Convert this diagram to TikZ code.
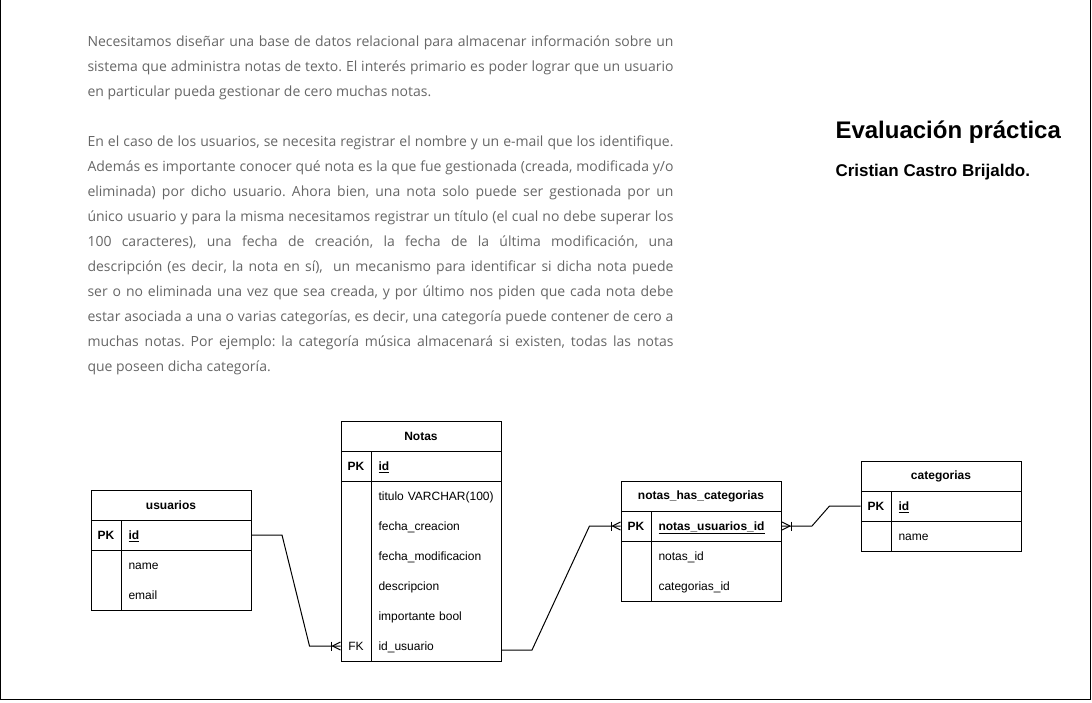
\documentclass[tikz,border=0pt]{standalone}
\usepackage{fontspec}
\setmainfont{Liberation Sans}
\newfontfamily\parafont{Open Sans}
\usetikzlibrary{calc}
\definecolor{paragray}{HTML}{666666}
\frenchspacing
\begin{document}
\begin{tikzpicture}[x=1pt,y=-1pt,line width=1pt,
  para/.style={anchor=base west,inner sep=0pt,font=\parafont\fontsize{14}{17}\selectfont,text=paragray},
  key/.style={inner sep=0pt,minimum width=30pt,minimum height=30pt,text height=9pt,text depth=0pt,font=\bfseries\fontsize{12}{14}\selectfont},
  fkey/.style={key,font=\fontsize{12}{14}\selectfont},
  fld/.style={anchor=west,inner xsep=7pt,inner ysep=0pt,text width=116pt,text height=9pt,text depth=0pt,minimum height=30pt,align=left,font=\fontsize{12}{14}\selectfont},
  pkfld/.style={fld,font=\bfseries\fontsize{12}{14}\selectfont},
  hdr/.style={draw,minimum width=160pt,minimum height=30pt,inner sep=0pt,font=\bfseries\fontsize{12}{14}\selectfont},
  conn/.style={draw,line width=1pt},
]
\useasboundingbox (0,0) rectangle (1092,702);
% frame (open at top)
\draw (0.5,0) -- (0.5,699.5) -- (1090.5,699.5) -- (1090.5,0);

% paragraph text
\node[para] (p1) at (87,46) {\makebox[586pt][s]{Necesitamos diseñar una base de datos relacional para almacenar información sobre un}};
\node[para] (p2) at (87,71) {\makebox[586pt][s]{sistema que administra notas de texto. El interés primario es poder lograr que un usuario}};
\node[para] (p3) at (87,96) {en particular pueda gestionar de cero muchas notas.};
\node[para] (p4) at (87,146) {\makebox[586pt][s]{En el caso de los usuarios, se necesita registrar el nombre y un e-mail que los identifique.}};
\node[para] (p5) at (87,171) {\makebox[586pt][s]{Además es importante conocer qué nota es la que fue gestionada (creada, modificada y/o}};
\node[para] (p6) at (87,196) {\makebox[586pt][s]{eliminada) por dicho usuario. Ahora bien, una nota solo puede ser gestionada por un}};
\node[para] (p7) at (87,221) {\makebox[586pt][s]{único usuario y para la misma necesitamos registrar un título (el cual no debe superar los}};
\node[para] (p8) at (87,246) {\makebox[586pt][s]{100 caracteres), una fecha de creación, la fecha de la última modificación, una}};
\node[para] (p9) at (87,271) {\makebox[586pt][s]{descripción (es decir, la nota en sí), \ un mecanismo para identificar si dicha nota puede}};
\node[para] (p10) at (87,296) {\makebox[586pt][s]{ser o no eliminada una vez que sea creada, y por último nos piden que cada nota debe}};
\node[para] (p11) at (87,321) {\makebox[586pt][s]{estar asociada a una o varias categorías, es decir, una categoría puede contener de cero a}};
\node[para] (p12) at (87,346) {\makebox[586pt][s]{muchas notas. Por ejemplo: la categoría música almacenará si existen, todas las notas}};
\node[para] (p13) at (87,371) {que poseen dicha categoría.};

% title
\node[anchor=base west,inner sep=0pt,font=\bfseries\fontsize{24}{28}\selectfont] (title) at (835,138) {Evaluación práctica};
\node[anchor=base west,inner sep=0pt,font=\bfseries\fontsize{17}{20}\selectfont] (author) at (835,176) {Cristian Castro Brijaldo.};

% ---- usuarios ----
\node[hdr] (u) at (171,505) {usuarios};
\draw (91,520) rectangle (251,610);
\draw (91,550) -- (251,550);
\draw (121,520) -- (121,610);
\node[key] (u-pkk) at (106,535) {PK};
\node[pkfld] (u-id) at (121,535) {\underline{id}};
\node[fld] (u-name) at (121,565) {name};
\node[fld] (u-email) at (121,595) {email};

% ---- Notas ----
\node[hdr] (n) at (421,436) {Notas};
\draw (341,451) rectangle (501,661);
\draw (341,481) -- (501,481);
\draw (371,451) -- (371,661);
\node[key] (n-pkk) at (356,466) {PK};
\node[pkfld] (n-id) at (371,466) {\underline{id}};
\node[fld] (n-tit) at (371,496) {titulo VARCHAR(100)};
\node[fld] (n-fc) at (371,526) {fecha\_creacion};
\node[fld] (n-fm) at (371,556) {fecha\_modificacion};
\node[fld] (n-de) at (371,586) {descripcion};
\node[fld] (n-im) at (371,616) {importante bool};
\node[fkey] (n-fkk) at (356,646) {FK};
\node[fld] (n-fk) at (371,646) {id\_usuario};

% ---- notas_has_categorias ----
\node[hdr] (h) at (701,496) {notas\_has\_categorias};
\draw (621,511) rectangle (781,601);
\draw (621,541) -- (781,541);
\draw (651,511) -- (651,601);
\node[key] (h-pkk) at (636,526) {PK};
\node[pkfld] (h-pk) at (651,526) {\underline{notas\_usuarios\_id}};
\node[fld] (h-nid) at (651,556) {notas\_id};
\node[fld] (h-cid) at (651,586) {categorias\_id};

% ---- categorias ----
\node[hdr] (c) at (941,476) {categorias};
\draw (861,491) rectangle (1021,551);
\draw (861,521) -- (1021,521);
\draw (891,491) -- (891,551);
\node[key] (c-pkk) at (876,506) {PK};
\node[pkfld] (c-id) at (891,506) {\underline{id}};
\node[fld] (c-name) at (891,536) {name};

% ---- connectors ----
% usuarios.id -> Notas.id_usuario (one or many)
\draw[conn] (u-id.east) -- ++(30,0) -- ($(n-fkk.west)+(-31,0)$) -- (n-fkk.west);
\draw[conn] ($(n-fkk.west)+(-8,0)$) -- ++(8,-4) ($(n-fkk.west)+(-8,0)$) -- ++(8,4);
\draw[conn] ($(n-fkk.west)+(-9,-4.5)$) -- ++(0,9);
% Notas -> notas_has_categorias (one or many)
\draw[conn] ($(n-fk.east)+(0,4)$) -- ++(30,0) -- ($(h-pkk.west)+(-31,0)$) -- (h-pkk.west);
\draw[conn] ($(h-pkk.west)+(-8,0)$) -- ++(8,-4) ($(h-pkk.west)+(-8,0)$) -- ++(8,4);
\draw[conn] ($(h-pkk.west)+(-9,-4.5)$) -- ++(0,9);
% notas_has_categorias -> categorias (one or many at nhc)
\draw[conn] (h-pk.east) -- ++(30,0) -- ($(c-pkk.west)+(-31,0)$) -- (c-pkk.west);
\draw[conn] ($(h-pk.east)+(8,0)$) -- ++(-8,-4) ($(h-pk.east)+(8,0)$) -- ++(-8,4);
\draw[conn] ($(h-pk.east)+(9,-4.5)$) -- ++(0,9);
\end{tikzpicture}
\end{document}
